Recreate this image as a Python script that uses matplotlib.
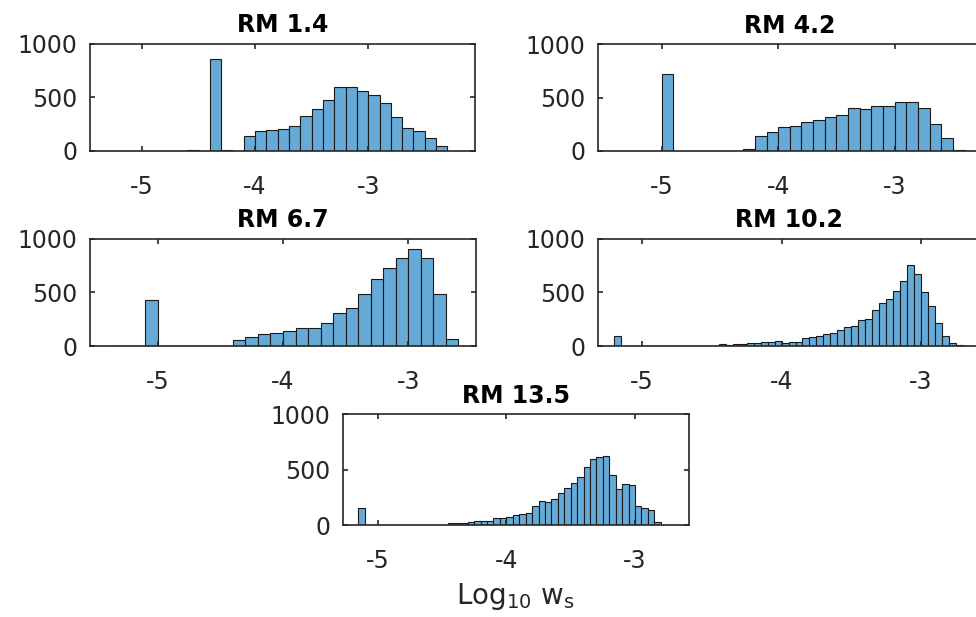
import numpy as np
import matplotlib
matplotlib.use('Agg')
import matplotlib.pyplot as plt

# histogram counts of log10(ws) for each RM level
titles = ['RM 1.4', 'RM 4.2', 'RM 6.7', 'RM 10.2', 'RM 13.5']

rm14_start, rm14_width = -5.3, 0.1
rm14_counts = [1, 0, 1, 0, 1, 0, 0, 5, 0, 856, 5, 0,
               139, 186, 196, 205, 237, 329, 395, 477, 600, 600, 562,
               525, 449, 313, 215, 183, 117, 44, 1]

rm42_start, rm42_width = -5.4, 0.1
rm42_counts = [1, 0, 0, 0, 715, 1, 0, 0, 0, 1, 0,
               16, 142, 177, 225, 231, 269, 291, 320, 339, 402, 392,
               418, 424, 462, 462, 402, 253, 123, 6]

rm67_start, rm67_width = -5.4, 0.1
rm67_counts = [1, 1, 0, 432, 0, 0, 0, 0, 1, 0,
               59, 81, 109, 118, 140, 165, 165, 217, 311, 354, 481,
               621, 721, 817, 901, 820, 481, 62]

rm102_start, rm102_width = -5.2, 0.05
rm102_counts = [96, 0, 0, 0, 1, 1, 0, 0, 0, 0, 1, 0, 0, 0, 2,
                15, 6, 15, 15, 25, 25, 40, 34, 43,
                25, 37, 37, 78, 87, 93, 115, 124, 149, 180, 183, 239,
                248, 339, 401, 441, 512, 606, 752, 671, 506, 370, 217,
                93, 28, 6]

rm135_start, rm135_width = -5.15, 0.05
rm135_counts = [155, 0, 0, 0, 0, 0, 0, 0, 0, 0, 0, 1, 0, 3,
                24, 24, 24, 27, 36, 36, 39, 62, 67, 76, 91, 100, 109,
                173, 218, 209, 239, 288, 333, 376, 433, 521, 600, 618,
                621, 455, 327, 373, 364, 173, 158, 136, 30, 1]

x_limits = [(-5.46, -2.06), (-5.55, -2.26), (-5.54, -2.46),
            (-5.32, -2.57), (-5.27, -2.58)]

panels = [(rm14_start, rm14_width, rm14_counts),
          (rm42_start, rm42_width, rm42_counts),
          (rm67_start, rm67_width, rm67_counts),
          (rm102_start, rm102_width, rm102_counts),
          (rm135_start, rm135_width, rm135_counts)]

W, H = 976, 617
# axes boxes in pixels: left, top, right, bottom
boxes = [(90, 43.5, 474.5, 151),
         (597.5, 44, 981, 151),
         (90, 238.5, 476, 346),
         (597.5, 238.5, 981, 346),
         (343, 414, 689, 525.3)]

plt.rcParams['font.family'] = 'DejaVu Sans'
fig = plt.figure(figsize=(W / 100, H / 100), dpi=100)

text_col = '#262626'
for i, (start, width, counts) in enumerate(panels):
    l, t, r, b = boxes[i]
    ax = fig.add_axes([l / W, 1 - b / H, (r - l) / W, (b - t) / H])
    edges = start + width * np.arange(len(counts))
    ax.bar(edges, counts, width=width, align='edge',
           facecolor='#66AAD7', edgecolor='#1a1a1a', linewidth=0.8)
    ax.set_xlim(*x_limits[i])
    ax.set_ylim(0, 1000)
    ax.set_xticks([-5, -4, -3])
    ax.set_xticklabels(['-5', '-4', '-3'])
    ax.set_yticks([0, 500, 1000])
    ax.tick_params(direction='in', top=True, right=True, length=3.5,
                   width=1.2, colors=text_col, labelsize=17)
    ax.tick_params(axis='x', pad=17)
    ax.tick_params(axis='y', pad=9)
    for s in ax.spines.values():
        s.set_linewidth(1.2)
        s.set_color(text_col)
    ax.set_title(titles[i], fontsize=17, fontweight='bold', pad=8)
    if i == 4:
        ax.set_xlabel(r'$\mathregular{Log_{10}\ w_s}$', fontsize=20,
                      color=text_col, labelpad=6)

fig.savefig('out.png', dpi=100)
